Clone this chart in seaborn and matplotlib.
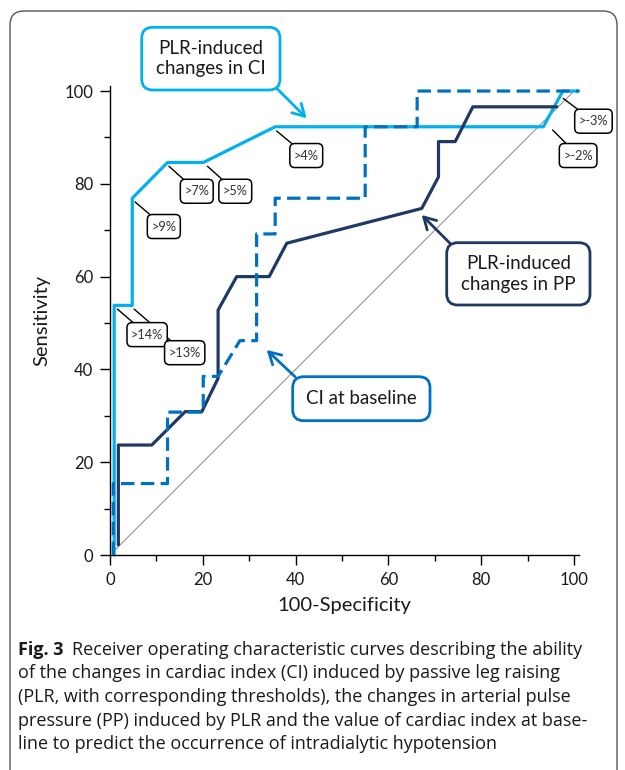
import matplotlib
matplotlib.use("Agg")
import matplotlib.pyplot as plt
import seaborn as sns
import pandas as pd
from matplotlib.patches import FancyBboxPatch
from matplotlib.transforms import IdentityTransform

# ---------------- data ----------------
ci_plr_x = [0.9, 0.9, 4.8, 4.8, 12.4, 20.1, 35.6, 93.4, 97.6, 101.0]
ci_plr_y = [0.0, 53.8, 53.8, 76.9, 84.6, 84.6, 92.3, 92.3, 100.0, 100.0]

pp_plr_x = [1.8, 1.8, 9.0, 16.2, 19.8, 23.3, 23.3, 27.3, 34.3, 38.1, 67.2, 70.8, 70.8, 74.4, 78.2, 96.3]
pp_plr_y = [2.2, 23.7, 23.7, 30.9, 30.9, 38.1, 52.8, 60.0, 60.0, 67.2, 74.7, 81.5, 89.1, 89.1, 96.6, 96.6]

ci_base_x = [0.7, 0.7, 12.4, 12.4, 20.1, 20.1, 23.3, 28.0, 31.6, 31.6, 35.6, 35.6, 55.0, 55.0, 66.2, 66.2, 101.0]
ci_base_y = [0.0, 15.4, 15.4, 30.8, 30.8, 38.5, 38.5, 46.2, 46.2, 69.2, 69.2, 76.9, 76.9, 92.3, 92.3, 100.0, 100.0]

ref_x = [1.0, 100.0]
ref_y = [1.0, 100.0]

threshold_labels = [">14%", ">13%", ">9%", ">7%", ">5%", ">4%", ">-2%", ">-3%"]
threshold_pt_x = [1.6, 5.2, 5.4, 12.7, 21.0, 35.9, 95.4, 97.7]
threshold_pt_y = [53.0, 53.0, 76.1, 83.8, 83.8, 91.4, 91.6, 98.4]

x_ticks = [0, 20, 40, 60, 80, 100]
y_ticks = [0, 20, 40, 60, 80, 100]

callout_texts = ["PLR-induced\nchanges in CI", "PLR-induced\nchanges in PP", "CI at baseline"]

caption_bold = "Fig. 3"
caption_lines = [
    "Receiver operating characteristic curves describing the ability",
    "of the changes in cardiac index (CI) induced by passive leg raising",
    "(PLR, with corresponding thresholds), the changes in arterial pulse",
    "pressure (PP) induced by PLR and the value of cardiac index at base-",
    "line to predict the occurrence of intradialytic hypotension",
]

# ---------------- layout / style ----------------
label_box_x = [8.0, 16.1, 11.6, 18.7, 27.0, 42.3, 100.9, 104.2]
label_box_y = [47.5, 43.6, 70.8, 78.4, 78.4, 86.1, 86.1, 93.5]

C_LIGHT = "#00B0F0"
C_NAVY = "#1F3864"
C_MID = "#0070C0"

sns.set_theme(style="ticks")
plt.rcParams["font.family"] = ["Lato", "DejaVu Sans"]

W, H = 625, 770
fig = plt.figure(figsize=(W / 100, H / 100), dpi=100)
ax = fig.add_axes([110 / W, 1 - 555 / H, 468.6 / W, 468.6 / H])

df_ci = pd.DataFrame({"x": ci_plr_x, "y": ci_plr_y})
df_pp = pd.DataFrame({"x": pp_plr_x, "y": pp_plr_y})
df_base = pd.DataFrame({"x": ci_base_x, "y": ci_base_y})
df_ref = pd.DataFrame({"x": ref_x, "y": ref_y})

sns.lineplot(data=df_ref, x="x", y="y", sort=False, estimator=None, ax=ax,
             color="#888888", lw=0.7, zorder=1)
sns.lineplot(data=df_ci, x="x", y="y", sort=False, estimator=None, ax=ax,
             color=C_LIGHT, lw=2.3, zorder=2)
sns.lineplot(data=df_pp, x="x", y="y", sort=False, estimator=None, ax=ax,
             color=C_NAVY, lw=2.3, zorder=3)
sns.lineplot(data=df_base, x="x", y="y", sort=False, estimator=None, ax=ax,
             color=C_MID, lw=2.3, linestyle=(0, (4.2, 2.0)), zorder=4)

for a in ax.lines:
    a.set_clip_on(False)

ax.set_xlim(0, 101)
ax.set_ylim(0, 101)
ax.set_xticks(x_ticks)
ax.set_yticks(y_ticks)
ax.set_xticks([10, 30, 50, 70, 90], minor=True)
ax.set_yticks([10, 30, 50, 70, 90], minor=True)
ax.tick_params(axis="both", which="major", length=7, width=1, color="black",
               labelsize=12, labelcolor="#1a1a1a", pad=5, direction="out")
ax.tick_params(axis="both", which="minor", length=4, width=1, color="black", direction="out")
sns.despine(ax=ax)
for s in ["left", "bottom"]:
    ax.spines[s].set_color("black")
    ax.spines[s].set_linewidth(1)
ax.set_xlabel("100-Specificity", fontsize=14.5, color="#1a1a1a", labelpad=7)
ax.set_ylabel("Sensitivity", fontsize=14.5, color="#1a1a1a", labelpad=10)
ax.set_facecolor("white")

# threshold labels with leader lines and fixed-height rounded boxes
fig.canvas.draw()
renderer = fig.canvas.get_renderer()
for lab, px_, py_, bx, by in zip(threshold_labels, threshold_pt_x, threshold_pt_y,
                                 label_box_x, label_box_y):
    ax.plot([px_, bx], [py_, by], color="black", lw=1.0, zorder=5, clip_on=False)
    t = ax.text(bx, by, lab, ha="center", va="center", fontsize=9.2, color="#333333",
                zorder=7, clip_on=False)
    tw = t.get_window_extent(renderer).width
    cx, cy = ax.transData.transform((bx, by))
    bw, bh = tw + 8, 24
    box = FancyBboxPatch((cx - bw / 2, cy - bh / 2), bw, bh,
                         boxstyle="round,pad=0,rounding_size=5",
                         transform=IdentityTransform(), fc="white", ec="black",
                         lw=1.1, zorder=6, clip_on=False)
    ax.add_artist(box)

# callout boxes (pixel coordinates, top-left origin)
def callout(text, x0, y0, w, h, color, tail, tip):
    patch = FancyBboxPatch((x0, H - y0 - h), w, h,
                           boxstyle="round,pad=0,rounding_size=11",
                           transform=IdentityTransform(), fc="white", ec=color,
                           lw=2.0, zorder=10)
    fig.patches.append(patch)
    fig.text((x0 + w / 2) / W, 1 - (y0 + h / 2) / H, text, ha="center", va="center",
             fontsize=13.5, color="#1a1a1a", linespacing=1.25, zorder=11)
    fig.add_artist(plt.matplotlib.text.Annotation(
        "", xy=(tip[0], H - tip[1]), xytext=(tail[0], H - tail[1]),
        xycoords="figure pixels", textcoords="figure pixels",
        arrowprops=dict(arrowstyle="->,head_length=0.7,head_width=0.4",
                        color=color, lw=2.0, shrinkA=0, shrinkB=0)))

callout(callout_texts[0], 141.7, 27.3, 138.3, 62.7, C_LIGHT, (276.7, 88.3), (306.7, 118.3))
callout(callout_texts[1], 446.7, 242.7, 143.3, 62.3, C_NAVY, (450.0, 243.3), (421.7, 215.0))
callout(callout_texts[2], 292.7, 376.7, 137.3, 44.0, C_MID, (295.0, 376.7), (266.7, 350.0))

# outer frame
frame = FancyBboxPatch((10, -40), 607, H - 11 + 40, boxstyle="round,pad=0,rounding_size=14",
                       transform=IdentityTransform(), fc="none", ec="#555555", lw=1.0)
fig.patches.append(frame)

# caption
cap_font = ["Open Sans", "DejaVu Sans"]
cap_size = 13.0
cap_x = 18 / W
cap_y = [650, 673.5, 697, 720.5, 744]
tb = fig.text(cap_x, 1 - cap_y[0] / H, caption_bold, ha="left", va="center",
              fontsize=cap_size, fontweight="bold", color="#1a1a1a", family=cap_font)
fig.canvas.draw()
bb = tb.get_window_extent()
fig.text((bb.x1 + 9) / W, 1 - cap_y[0] / H, caption_lines[0], ha="left", va="center",
         fontsize=cap_size, color="#1a1a1a", family=cap_font)
for line, yy in zip(caption_lines[1:], cap_y[1:]):
    fig.text(cap_x, 1 - yy / H, line, ha="left", va="center", fontsize=cap_size,
             color="#1a1a1a", family=cap_font)

fig.savefig("out.png", dpi=100, facecolor="white")
